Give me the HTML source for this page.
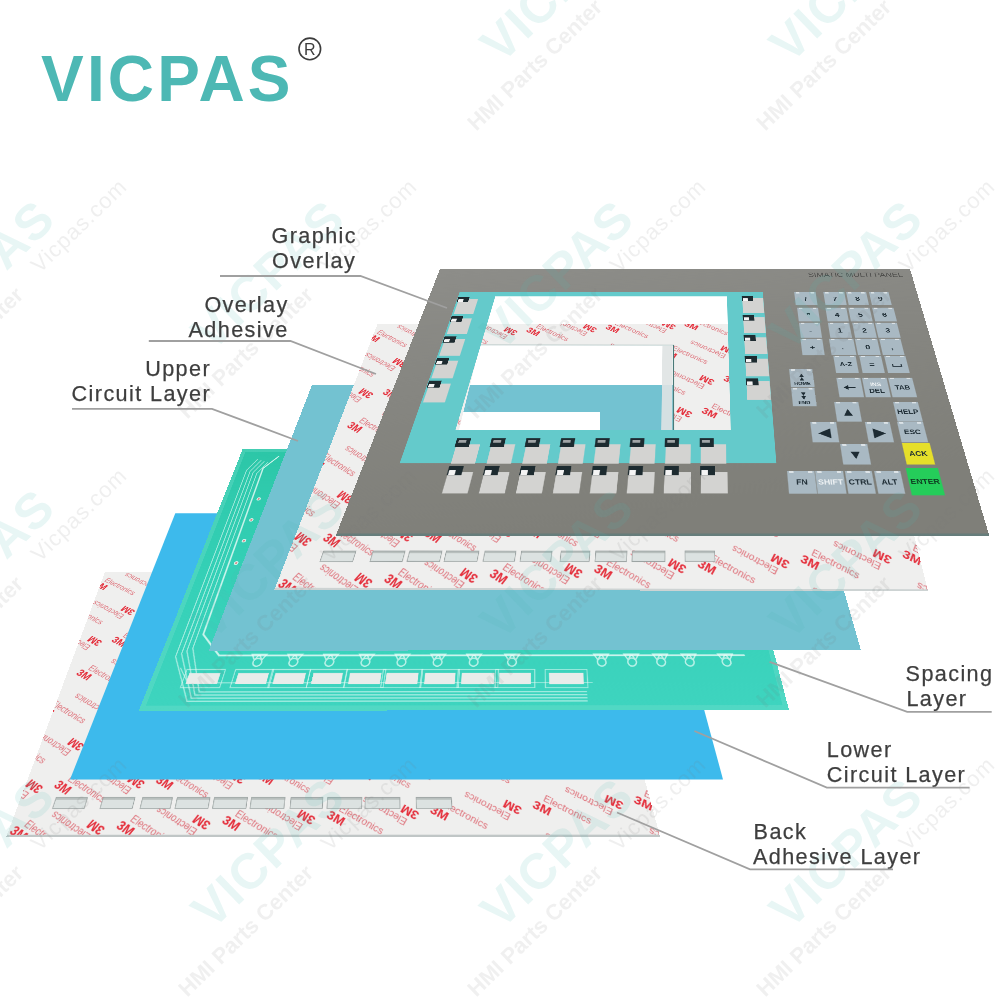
<!DOCTYPE html><html><head><meta charset="utf-8"><style>
html,body{margin:0;padding:0;background:#fff;}
body{width:1000px;height:1000px;overflow:hidden;position:relative;font-family:"Liberation Sans",sans-serif;}
.ly{position:absolute;left:0;top:0;transform-origin:0 0;}
.ly svg{display:block;}
.lab{position:absolute;font-size:21.6px;color:#3e3e3e;-webkit-text-stroke:0.25px #3e3e3e;line-height:25px;height:25px;white-space:nowrap;}
#ov{position:absolute;left:0;top:0;}
</style></head><body>

<div class="ly" style="width:1000px;height:560px;transform:matrix3d(0.48416487,0.00016011035,0,2.7991319e-07,-0.17917083,0.084631913,0,-0.0004636243,0,0,1,0,105,572,0,1)">
<svg width="1000" height="560" viewBox="0 0 1000 560">
<defs><pattern id="pBA" patternUnits="userSpaceOnUse" width="136" height="88" patternTransform="rotate(30) scale(1.00 1)">
<text x="17" y="20" font-size="16" fill="#de6f78" font-family="Liberation Sans">Electronics</text>
<text x="6" y="39" font-size="21" font-weight="bold" fill="#e42b38" font-family="Liberation Sans">3M</text>
<g transform="rotate(180 102 64)"><text x="85" y="62" font-size="16" fill="#de6f78" font-family="Liberation Sans">Electronics</text>
<text x="74" y="81" font-size="21" font-weight="bold" fill="#e42b38" font-family="Liberation Sans">3M</text></g>
</pattern></defs>
<rect x="0" y="0" width="1000" height="560" fill="#efefee"/>
<rect x="0" y="0" width="1000" height="560" fill="url(#pBA)"/>
<rect x="56.2" y="496.3" width="49.8" height="18.4" fill="#dce2e1" stroke="#9aa2a1" stroke-width="1.2"/>
<rect x="56.2" y="496.3" width="49.8" height="3.7" fill="#9aa2a1" opacity="0.55"/>
<rect x="130.9" y="496.3" width="50.6" height="18.4" fill="#dce2e1" stroke="#9aa2a1" stroke-width="1.2"/>
<rect x="130.9" y="496.3" width="50.6" height="3.7" fill="#9aa2a1" opacity="0.55"/>
<rect x="193.8" y="496.3" width="47.3" height="18.4" fill="#dce2e1" stroke="#9aa2a1" stroke-width="1.2"/>
<rect x="193.8" y="496.3" width="47.3" height="3.7" fill="#9aa2a1" opacity="0.55"/>
<rect x="248.8" y="496.3" width="51.9" height="18.4" fill="#dce2e1" stroke="#9aa2a1" stroke-width="1.2"/>
<rect x="248.8" y="496.3" width="51.9" height="3.7" fill="#9aa2a1" opacity="0.55"/>
<rect x="307.8" y="496.3" width="52.6" height="18.4" fill="#dce2e1" stroke="#9aa2a1" stroke-width="1.2"/>
<rect x="307.8" y="496.3" width="52.6" height="3.7" fill="#9aa2a1" opacity="0.55"/>
<rect x="366.8" y="496.3" width="53.3" height="18.4" fill="#dce2e1" stroke="#9aa2a1" stroke-width="1.2"/>
<rect x="366.8" y="496.3" width="53.3" height="3.7" fill="#9aa2a1" opacity="0.55"/>
<rect x="429.7" y="496.4" width="50.8" height="18.4" fill="#dce2e1" stroke="#9aa2a1" stroke-width="1.2"/>
<rect x="429.7" y="496.4" width="50.8" height="3.7" fill="#9aa2a1" opacity="0.55"/>
<rect x="487.9" y="496.4" width="54.6" height="18.4" fill="#dce2e1" stroke="#9aa2a1" stroke-width="1.2"/>
<rect x="487.9" y="496.4" width="54.6" height="3.7" fill="#9aa2a1" opacity="0.55"/>
<rect x="547.7" y="496.4" width="55.1" height="18.4" fill="#dce2e1" stroke="#9aa2a1" stroke-width="1.2"/>
<rect x="547.7" y="496.4" width="55.1" height="3.7" fill="#9aa2a1" opacity="0.55"/>
<rect x="628.5" y="496.4" width="56.1" height="18.4" fill="#dce2e1" stroke="#9aa2a1" stroke-width="1.2"/>
<rect x="628.5" y="496.4" width="56.1" height="3.7" fill="#9aa2a1" opacity="0.55"/>
<rect x="0" y="557" width="1000" height="3" fill="#c0c6c6"/>
</svg></div>
<div class="ly" style="width:1000px;height:560px;transform:matrix3d(0.4757,0,0,0,-0.22197522,0.097416457,0,-0.00048485014,0,0,1,0,175.3,513.3,0,1)">
<svg width="1000" height="560" viewBox="0 0 1000 560">
<rect x="0" y="0" width="1000" height="560" fill="#3dbaec"/>
</svg></div>
<div class="ly" style="width:1000px;height:560px;transform:matrix3d(0.47931492,0.00063203754,0,1.407656e-06,-0.25126007,0.13146427,0,-0.00047257233,0,0,1,0,242.7,449,0,1)">
<svg width="1000" height="560" viewBox="0 0 1000 560">
<defs><linearGradient id="gsp" x1="0" y1="0" x2="0" y2="1"><stop offset="0" stop-color="#2cc6a7"/><stop offset="0.55" stop-color="#34d0b6"/><stop offset="1" stop-color="#3ed4bf"/></linearGradient></defs>
<rect x="0" y="0" width="1000" height="560" fill="url(#gsp)"/>
<path fill-rule="evenodd" fill="#7fe0cf" opacity="0.3" d="M0 0 H1000 V560 H0 Z M8 8 V552 H992 V8 Z"/>
<polyline stroke="#effdf9" fill="none" stroke-linecap="round" stroke-width="2" opacity="0.55" points="39.0,30.0 25.0,60.0 25.0,470.0 69.0,545.0 690,545.0"/>
<polyline stroke="#effdf9" fill="none" stroke-linecap="round" stroke-width="2" opacity="0.55" points="47.0,33.0 33.0,63.0 33.0,465.0 74.0,540.0 690,540.0"/>
<polyline stroke="#effdf9" fill="none" stroke-linecap="round" stroke-width="2" opacity="0.55" points="54.0,36.0 40.0,66.0 40.0,460.0 78.0,535.0 690,535.0"/>
<polyline stroke="#effdf9" fill="none" stroke-linecap="round" stroke-width="2" opacity="0.55" points="62.0,39.0 48.0,69.0 48.0,455.0 83.0,530.0 690,530.0"/>
<polyline stroke="#effdf9" fill="none" stroke-linecap="round" stroke-width="3" opacity="0.8" points="80,22 57,55 57,430 95,468 950,468"/>
<polyline stroke="#effdf9" fill="none" stroke-linecap="round" stroke-width="1.6" opacity="0.6" points="40,490 60,515 700,515"/>
<defs><pattern id="hatch" patternUnits="userSpaceOnUse" width="7" height="7" patternTransform="rotate(35)"><rect x="0" y="0" width="2" height="7" fill="#effdf9" opacity="0.6"/></pattern></defs>
<path fill="url(#hatch)" d="M95 25 L120 25 L105 320 L80 320 Z"/>
<circle cx="70" cy="136" r="4" fill="#e6f7f2" opacity="0.9"/><circle cx="70" cy="136" r="2" fill="#d98080"/>
<circle cx="70" cy="188" r="4" fill="#e6f7f2" opacity="0.9"/><circle cx="70" cy="188" r="2" fill="#d98080"/>
<circle cx="70" cy="237" r="4" fill="#e6f7f2" opacity="0.9"/><circle cx="70" cy="237" r="2" fill="#d98080"/>
<circle cx="70" cy="287" r="4" fill="#e6f7f2" opacity="0.9"/><circle cx="70" cy="287" r="2" fill="#d98080"/>
<path d="M160.5 466 l-12 0 l6 10 z M160.5 466 l12 0 l-6 10 z M160.5 480 m-7 0 a7 7 0 1 0 14 0 a7 7 0 1 0 -14 0" fill="none" stroke="#effdf9" stroke-width="2.4" opacity="0.7"/>
<path d="M218.7 466 l-12 0 l6 10 z M218.7 466 l12 0 l-6 10 z M218.7 480 m-7 0 a7 7 0 1 0 14 0 a7 7 0 1 0 -14 0" fill="none" stroke="#effdf9" stroke-width="2.4" opacity="0.7"/>
<path d="M276.9 466 l-12 0 l6 10 z M276.9 466 l12 0 l-6 10 z M276.9 480 m-7 0 a7 7 0 1 0 14 0 a7 7 0 1 0 -14 0" fill="none" stroke="#effdf9" stroke-width="2.4" opacity="0.7"/>
<path d="M335.2 466 l-12 0 l6 10 z M335.2 466 l12 0 l-6 10 z M335.2 480 m-7 0 a7 7 0 1 0 14 0 a7 7 0 1 0 -14 0" fill="none" stroke="#effdf9" stroke-width="2.4" opacity="0.7"/>
<path d="M393.4 466 l-12 0 l6 10 z M393.4 466 l12 0 l-6 10 z M393.4 480 m-7 0 a7 7 0 1 0 14 0 a7 7 0 1 0 -14 0" fill="none" stroke="#effdf9" stroke-width="2.4" opacity="0.7"/>
<path d="M451.7 466 l-12 0 l6 10 z M451.7 466 l12 0 l-6 10 z M451.7 480 m-7 0 a7 7 0 1 0 14 0 a7 7 0 1 0 -14 0" fill="none" stroke="#effdf9" stroke-width="2.4" opacity="0.7"/>
<path d="M510.0 466 l-12 0 l6 10 z M510.0 466 l12 0 l-6 10 z M510.0 480 m-7 0 a7 7 0 1 0 14 0 a7 7 0 1 0 -14 0" fill="none" stroke="#effdf9" stroke-width="2.4" opacity="0.7"/>
<path d="M572.0 466 l-12 0 l6 10 z M572.0 466 l12 0 l-6 10 z M572.0 480 m-7 0 a7 7 0 1 0 14 0 a7 7 0 1 0 -14 0" fill="none" stroke="#effdf9" stroke-width="2.4" opacity="0.7"/>
<path d="M717.1 466 l-12 0 l6 10 z M717.1 466 l12 0 l-6 10 z M717.1 480 m-7 0 a7 7 0 1 0 14 0 a7 7 0 1 0 -14 0" fill="none" stroke="#effdf9" stroke-width="2.4" opacity="0.7"/>
<path d="M766.3 466 l-12 0 l6 10 z M766.3 466 l12 0 l-6 10 z M766.3 480 m-7 0 a7 7 0 1 0 14 0 a7 7 0 1 0 -14 0" fill="none" stroke="#effdf9" stroke-width="2.4" opacity="0.7"/>
<path d="M813.3 466 l-12 0 l6 10 z M813.3 466 l12 0 l-6 10 z M813.3 480 m-7 0 a7 7 0 1 0 14 0 a7 7 0 1 0 -14 0" fill="none" stroke="#effdf9" stroke-width="2.4" opacity="0.7"/>
<path d="M859.7 466 l-12 0 l6 10 z M859.7 466 l12 0 l-6 10 z M859.7 480 m-7 0 a7 7 0 1 0 14 0 a7 7 0 1 0 -14 0" fill="none" stroke="#effdf9" stroke-width="2.4" opacity="0.7"/>
<path d="M919.3 466 l-12 0 l6 10 z M919.3 466 l12 0 l-6 10 z M919.3 480 m-7 0 a7 7 0 1 0 14 0 a7 7 0 1 0 -14 0" fill="none" stroke="#effdf9" stroke-width="2.4" opacity="0.7"/>
<rect x="51.1" y="492.4" width="61.7" height="30.5" fill="none" stroke="#e9fbf6" stroke-width="1.6" opacity="0.6"/>
<rect x="57.1" y="498.4" width="49.7" height="18.5" fill="#e8ecea"/>
<rect x="129.2" y="492.5" width="60.9" height="30.5" fill="none" stroke="#e9fbf6" stroke-width="1.6" opacity="0.6"/>
<rect x="135.2" y="498.5" width="48.9" height="18.5" fill="#e8ecea"/>
<rect x="188.4" y="492.5" width="60.8" height="30.5" fill="none" stroke="#e9fbf6" stroke-width="1.6" opacity="0.6"/>
<rect x="194.4" y="498.5" width="48.8" height="18.5" fill="#e8ecea"/>
<rect x="249.2" y="492.5" width="59.1" height="30.5" fill="none" stroke="#e9fbf6" stroke-width="1.6" opacity="0.6"/>
<rect x="255.2" y="498.5" width="47.1" height="18.5" fill="#e8ecea"/>
<rect x="307.6" y="492.6" width="62.3" height="30.5" fill="none" stroke="#e9fbf6" stroke-width="1.6" opacity="0.6"/>
<rect x="313.6" y="498.6" width="50.3" height="18.5" fill="#e8ecea"/>
<rect x="366.1" y="492.6" width="63.0" height="30.5" fill="none" stroke="#e9fbf6" stroke-width="1.6" opacity="0.6"/>
<rect x="372.1" y="498.6" width="51.0" height="18.5" fill="#e8ecea"/>
<rect x="427.7" y="492.7" width="60.5" height="30.5" fill="none" stroke="#e9fbf6" stroke-width="1.6" opacity="0.6"/>
<rect x="433.7" y="498.7" width="48.5" height="18.5" fill="#e8ecea"/>
<rect x="486.2" y="492.7" width="64.3" height="30.5" fill="none" stroke="#e9fbf6" stroke-width="1.6" opacity="0.6"/>
<rect x="492.2" y="498.7" width="52.3" height="18.5" fill="#e8ecea"/>
<rect x="546.2" y="492.7" width="62.6" height="30.5" fill="none" stroke="#e9fbf6" stroke-width="1.6" opacity="0.6"/>
<rect x="552.2" y="498.7" width="50.6" height="18.5" fill="#e8ecea"/>
<rect x="625.5" y="492.8" width="67.0" height="30.5" fill="none" stroke="#e9fbf6" stroke-width="1.6" opacity="0.6"/>
<rect x="631.5" y="498.8" width="55.0" height="18.5" fill="#e8ecea"/>
</svg></div>
<div class="ly" style="width:1000px;height:560px;transform:matrix3d(0.47364359,0.00031564672,0,8.1986161e-07,-0.28693936,0.1548306,0,-0.00049101616,0,0,1,0,312,385,0,1)">
<svg width="1000" height="560" viewBox="0 0 1000 560">
<path fill-rule="evenodd" fill="#73c2d1" d="M0 0 H1000 V560 H0 Z M250 75 V200 H607 V75 Z"/>
</svg></div>
<div class="ly" style="width:1000px;height:560px;transform:matrix3d(0.4801935,-0.0016186845,0,-4.9959398e-06,-0.3104451,0.20240771,0,-0.0004608981,0,0,1,0,377.5,324,0,1)">
<svg width="1000" height="560" viewBox="0 0 1000 560">
<defs><pattern id="pAD" patternUnits="userSpaceOnUse" width="136" height="88" patternTransform="rotate(30) scale(1.00 1)">
<text x="17" y="20" font-size="16" fill="#de6f78" font-family="Liberation Sans">Electronics</text>
<text x="6" y="39" font-size="21" font-weight="bold" fill="#e42b38" font-family="Liberation Sans">3M</text>
<g transform="rotate(180 102 64)"><text x="85" y="62" font-size="16" fill="#de6f78" font-family="Liberation Sans">Electronics</text>
<text x="74" y="81" font-size="21" font-weight="bold" fill="#e42b38" font-family="Liberation Sans">3M</text></g>
</pattern></defs>
<path id="adf" fill-rule="evenodd" fill="#efefee" d="M0 0 H1000 V560 H0 Z M223 58 V400 H612 V58 Z"/>
<path fill-rule="evenodd" fill="url(#pAD)" d="M0 0 H1000 V560 H0 Z M223 58 V400 H612 V58 Z"/>
<path fill="none" stroke="#4a7a78" stroke-width="2.2" d="M223 58 H612 V400"/>
<rect x="590" y="60" width="20" height="340" fill="#dfe3e3" opacity="0.9"/>
<rect x="54.7" y="497.3" width="51.7" height="17.4" fill="#dce2e1" stroke="#9aa2a1" stroke-width="1.2"/>
<rect x="54.7" y="497.3" width="51.7" height="3.5" fill="#9aa2a1" opacity="0.55"/>
<rect x="133.8" y="497.1" width="50.9" height="17.4" fill="#dce2e1" stroke="#9aa2a1" stroke-width="1.2"/>
<rect x="133.8" y="497.1" width="50.9" height="3.5" fill="#9aa2a1" opacity="0.55"/>
<rect x="192.2" y="496.9" width="51.4" height="17.4" fill="#dce2e1" stroke="#9aa2a1" stroke-width="1.2"/>
<rect x="192.2" y="496.9" width="51.4" height="3.5" fill="#9aa2a1" opacity="0.55"/>
<rect x="250.6" y="496.8" width="52.0" height="17.4" fill="#dce2e1" stroke="#9aa2a1" stroke-width="1.2"/>
<rect x="250.6" y="496.8" width="52.0" height="3.5" fill="#9aa2a1" opacity="0.55"/>
<rect x="312.2" y="496.6" width="49.4" height="17.4" fill="#dce2e1" stroke="#9aa2a1" stroke-width="1.2"/>
<rect x="312.2" y="496.6" width="49.4" height="3.5" fill="#9aa2a1" opacity="0.55"/>
<rect x="370.5" y="496.5" width="48.4" height="17.4" fill="#dce2e1" stroke="#9aa2a1" stroke-width="1.2"/>
<rect x="370.5" y="496.5" width="48.4" height="3.5" fill="#9aa2a1" opacity="0.55"/>
<rect x="433.5" y="496.3" width="45.9" height="17.4" fill="#dce2e1" stroke="#9aa2a1" stroke-width="1.2"/>
<rect x="433.5" y="496.3" width="45.9" height="3.5" fill="#9aa2a1" opacity="0.55"/>
<rect x="488.6" y="496.2" width="49.6" height="17.4" fill="#dce2e1" stroke="#9aa2a1" stroke-width="1.2"/>
<rect x="488.6" y="496.2" width="49.6" height="3.5" fill="#9aa2a1" opacity="0.55"/>
<rect x="546.9" y="496.1" width="51.8" height="17.4" fill="#dce2e1" stroke="#9aa2a1" stroke-width="1.2"/>
<rect x="546.9" y="496.1" width="51.8" height="3.5" fill="#9aa2a1" opacity="0.55"/>
<rect x="630.4" y="495.8" width="47.0" height="17.4" fill="#dce2e1" stroke="#9aa2a1" stroke-width="1.2"/>
<rect x="630.4" y="495.8" width="47.0" height="3.5" fill="#9aa2a1" opacity="0.55"/>
<rect x="0" y="557" width="1000" height="3" fill="#cdd3d3"/>
</svg></div>
<div class="ly" style="width:1000px;height:640px;transform:matrix3d(0.47,0,0,0,-0.31008475,0.18155131,0,-0.00043857132,0,0,1,0,440,269,0,1)">
<svg width="1000" height="640" viewBox="0 0 1000 640">
<defs><linearGradient id="ggo" x1="0" y1="0" x2="0.3" y2="1"><stop offset="0" stop-color="#8d8d89"/><stop offset="1" stop-color="#7f7f79"/></linearGradient></defs>
<path fill-rule="evenodd" fill="url(#ggo)" d="M0 0 H1000 V640 H0 Z M135 88 V435 H609 V88 Z"/>
<path fill-rule="evenodd" fill="#64cacb" d="M59 75 H683 V505 H59 Z M135 88 V435 H609 V88 Z"/>
<rect x="62.5" y="96.0" width="39.0" height="45.0" fill="#d3d3d1"/>
<rect x="60.0" y="89.0" width="23.0" height="17.0" fill="#1d2b30"/>
<rect x="62.0" y="96.7" width="10.3" height="8.5" fill="#f4f4f4"/>
<rect x="62.5" y="153.9" width="39.0" height="45.0" fill="#d3d3d1"/>
<rect x="60.0" y="146.9" width="23.0" height="17.0" fill="#1d2b30"/>
<rect x="62.0" y="154.6" width="10.3" height="8.5" fill="#f4f4f4"/>
<rect x="62.5" y="211.8" width="39.0" height="45.0" fill="#d3d3d1"/>
<rect x="60.0" y="204.8" width="23.0" height="17.0" fill="#1d2b30"/>
<rect x="62.0" y="212.5" width="10.3" height="8.5" fill="#f4f4f4"/>
<rect x="62.5" y="269.7" width="39.0" height="45.0" fill="#d3d3d1"/>
<rect x="60.0" y="262.7" width="23.0" height="17.0" fill="#1d2b30"/>
<rect x="62.0" y="270.3" width="10.3" height="8.5" fill="#f4f4f4"/>
<rect x="62.5" y="327.6" width="39.0" height="45.0" fill="#d3d3d1"/>
<rect x="60.0" y="320.6" width="23.0" height="17.0" fill="#1d2b30"/>
<rect x="62.0" y="328.2" width="10.3" height="8.5" fill="#f4f4f4"/>
<rect x="640.0" y="93.0" width="42.5" height="45.0" fill="#d3d3d1"/>
<rect x="639.0" y="86.0" width="23.0" height="17.0" fill="#1d2b30"/>
<rect x="641.0" y="93.7" width="10.3" height="8.5" fill="#f4f4f4"/>
<rect x="640.0" y="150.2" width="42.5" height="45.0" fill="#d3d3d1"/>
<rect x="639.0" y="143.2" width="23.0" height="17.0" fill="#1d2b30"/>
<rect x="641.0" y="150.8" width="10.3" height="8.5" fill="#f4f4f4"/>
<rect x="640.0" y="207.4" width="42.5" height="45.0" fill="#d3d3d1"/>
<rect x="639.0" y="200.4" width="23.0" height="17.0" fill="#1d2b30"/>
<rect x="641.0" y="208.1" width="10.3" height="8.5" fill="#f4f4f4"/>
<rect x="640.0" y="264.6" width="42.5" height="45.0" fill="#d3d3d1"/>
<rect x="639.0" y="257.6" width="23.0" height="17.0" fill="#1d2b30"/>
<rect x="641.0" y="265.2" width="10.3" height="8.5" fill="#f4f4f4"/>
<rect x="640.0" y="321.8" width="42.5" height="45.0" fill="#d3d3d1"/>
<rect x="639.0" y="314.8" width="23.0" height="17.0" fill="#1d2b30"/>
<rect x="641.0" y="322.4" width="10.3" height="8.5" fill="#f4f4f4"/>
<rect x="144.0" y="465.7" width="40.0" height="40.0" fill="#d3d3d1"/>
<rect x="142.0" y="453.0" width="24.0" height="18.0" fill="#1d2b30"/>
<rect x="146.0" y="457.0" width="13.2" height="5.4" fill="#d8d8d8" opacity="0.7"/>
<rect x="203.1" y="465.7" width="40.4" height="40.0" fill="#d3d3d1"/>
<rect x="201.1" y="453.0" width="24.0" height="18.0" fill="#1d2b30"/>
<rect x="205.1" y="457.0" width="13.2" height="5.4" fill="#d8d8d8" opacity="0.7"/>
<rect x="262.2" y="465.7" width="40.7" height="40.0" fill="#d3d3d1"/>
<rect x="260.2" y="453.0" width="24.0" height="18.0" fill="#1d2b30"/>
<rect x="264.2" y="457.0" width="13.2" height="5.4" fill="#d8d8d8" opacity="0.7"/>
<rect x="321.3" y="465.7" width="41.1" height="40.0" fill="#d3d3d1"/>
<rect x="319.3" y="453.0" width="24.0" height="18.0" fill="#1d2b30"/>
<rect x="323.3" y="457.0" width="13.2" height="5.4" fill="#d8d8d8" opacity="0.7"/>
<rect x="380.4" y="465.7" width="41.4" height="40.0" fill="#d3d3d1"/>
<rect x="378.4" y="453.0" width="24.0" height="18.0" fill="#1d2b30"/>
<rect x="382.4" y="457.0" width="13.2" height="5.4" fill="#d8d8d8" opacity="0.7"/>
<rect x="439.5" y="465.7" width="41.8" height="40.0" fill="#d3d3d1"/>
<rect x="437.5" y="453.0" width="24.0" height="18.0" fill="#1d2b30"/>
<rect x="441.5" y="457.0" width="13.2" height="5.4" fill="#d8d8d8" opacity="0.7"/>
<rect x="498.6" y="465.7" width="42.1" height="40.0" fill="#d3d3d1"/>
<rect x="496.6" y="453.0" width="24.0" height="18.0" fill="#1d2b30"/>
<rect x="500.6" y="457.0" width="13.2" height="5.4" fill="#d8d8d8" opacity="0.7"/>
<rect x="557.7" y="465.7" width="42.5" height="40.0" fill="#d3d3d1"/>
<rect x="555.7" y="453.0" width="24.0" height="18.0" fill="#1d2b30"/>
<rect x="559.7" y="457.0" width="13.2" height="5.4" fill="#d8d8d8" opacity="0.7"/>
<rect x="143.6" y="522.4" width="41.0" height="41.6" fill="#d3d3d1"/>
<rect x="142.6" y="510.0" width="24.0" height="19.0" fill="#1d2b30"/>
<rect x="144.6" y="518.5" width="10.8" height="9.5" fill="#f4f4f4"/>
<rect x="202.8" y="522.4" width="41.4" height="41.6" fill="#d3d3d1"/>
<rect x="201.8" y="510.0" width="24.0" height="19.0" fill="#1d2b30"/>
<rect x="203.8" y="518.5" width="10.8" height="9.5" fill="#f4f4f4"/>
<rect x="262.0" y="522.4" width="41.7" height="41.6" fill="#d3d3d1"/>
<rect x="261.0" y="510.0" width="24.0" height="19.0" fill="#1d2b30"/>
<rect x="263.0" y="518.5" width="10.8" height="9.5" fill="#f4f4f4"/>
<rect x="321.2" y="522.4" width="42.1" height="41.6" fill="#d3d3d1"/>
<rect x="320.2" y="510.0" width="24.0" height="19.0" fill="#1d2b30"/>
<rect x="322.2" y="518.5" width="10.8" height="9.5" fill="#f4f4f4"/>
<rect x="380.4" y="522.4" width="42.5" height="41.6" fill="#d3d3d1"/>
<rect x="379.4" y="510.0" width="24.0" height="19.0" fill="#1d2b30"/>
<rect x="381.4" y="518.5" width="10.8" height="9.5" fill="#f4f4f4"/>
<rect x="439.6" y="522.4" width="42.9" height="41.6" fill="#d3d3d1"/>
<rect x="438.6" y="510.0" width="24.0" height="19.0" fill="#1d2b30"/>
<rect x="440.6" y="518.5" width="10.8" height="9.5" fill="#f4f4f4"/>
<rect x="498.8" y="522.4" width="43.2" height="41.6" fill="#d3d3d1"/>
<rect x="497.8" y="510.0" width="24.0" height="19.0" fill="#1d2b30"/>
<rect x="499.8" y="518.5" width="10.8" height="9.5" fill="#f4f4f4"/>
<rect x="558.0" y="522.4" width="43.6" height="41.6" fill="#d3d3d1"/>
<rect x="557.0" y="510.0" width="24.0" height="19.0" fill="#1d2b30"/>
<rect x="559.0" y="518.5" width="10.8" height="9.5" fill="#f4f4f4"/>
<rect x="747.5" y="75.0" width="44.0" height="39.5" fill="#a9b9c3"/>
<rect x="751.0" y="75.0" width="7" height="4" fill="#e8eef0" opacity="0.8"/><rect x="781.0" y="75.0" width="7" height="4" fill="#e8eef0" opacity="0.8"/>
<text x="769.5" y="101.1" font-size="17" font-weight="bold" text-anchor="middle" fill="#1e2c34" font-family="Liberation Sans">/</text>
<rect x="807.5" y="75.0" width="43.0" height="39.5" fill="#a9b9c3"/>
<rect x="811.0" y="75.0" width="7" height="4" fill="#e8eef0" opacity="0.8"/><rect x="840.0" y="75.0" width="7" height="4" fill="#e8eef0" opacity="0.8"/>
<text x="829.0" y="101.1" font-size="17" font-weight="bold" text-anchor="middle" fill="#1e2c34" font-family="Liberation Sans">7</text>
<rect x="854.5" y="75.0" width="41.0" height="39.5" fill="#a9b9c3"/>
<rect x="858.0" y="75.0" width="7" height="4" fill="#e8eef0" opacity="0.8"/><rect x="885.0" y="75.0" width="7" height="4" fill="#e8eef0" opacity="0.8"/>
<text x="875.0" y="101.1" font-size="17" font-weight="bold" text-anchor="middle" fill="#1e2c34" font-family="Liberation Sans">8</text>
<rect x="901.5" y="75.0" width="40.0" height="39.5" fill="#a9b9c3"/>
<rect x="905.0" y="75.0" width="7" height="4" fill="#e8eef0" opacity="0.8"/><rect x="931.0" y="75.0" width="7" height="4" fill="#e8eef0" opacity="0.8"/>
<text x="921.5" y="101.1" font-size="17" font-weight="bold" text-anchor="middle" fill="#1e2c34" font-family="Liberation Sans">9</text>
<rect x="749.5" y="122.0" width="42.0" height="40.5" fill="#a9b9c3"/>
<rect x="753.0" y="122.0" width="7" height="4" fill="#e8eef0" opacity="0.8"/><rect x="781.0" y="122.0" width="7" height="4" fill="#e8eef0" opacity="0.8"/>
<text x="770.5" y="148.6" font-size="17" font-weight="bold" text-anchor="middle" fill="#1e2c34" font-family="Liberation Sans">*</text>
<rect x="806.5" y="122.0" width="42.0" height="40.5" fill="#a9b9c3"/>
<rect x="810.0" y="122.0" width="7" height="4" fill="#e8eef0" opacity="0.8"/><rect x="838.0" y="122.0" width="7" height="4" fill="#e8eef0" opacity="0.8"/>
<text x="827.5" y="148.6" font-size="17" font-weight="bold" text-anchor="middle" fill="#1e2c34" font-family="Liberation Sans">4</text>
<rect x="852.5" y="122.0" width="43.0" height="40.5" fill="#a9b9c3"/>
<rect x="856.0" y="122.0" width="7" height="4" fill="#e8eef0" opacity="0.8"/><rect x="885.0" y="122.0" width="7" height="4" fill="#e8eef0" opacity="0.8"/>
<text x="874.0" y="148.6" font-size="17" font-weight="bold" text-anchor="middle" fill="#1e2c34" font-family="Liberation Sans">5</text>
<rect x="900.5" y="122.0" width="43.0" height="40.5" fill="#a9b9c3"/>
<rect x="904.0" y="122.0" width="7" height="4" fill="#e8eef0" opacity="0.8"/><rect x="933.0" y="122.0" width="7" height="4" fill="#e8eef0" opacity="0.8"/>
<text x="922.0" y="148.6" font-size="17" font-weight="bold" text-anchor="middle" fill="#1e2c34" font-family="Liberation Sans">6</text>
<rect x="749.5" y="166.0" width="41.0" height="42.5" fill="#a9b9c3"/>
<rect x="753.0" y="166.0" width="7" height="4" fill="#e8eef0" opacity="0.8"/><rect x="780.0" y="166.0" width="7" height="4" fill="#e8eef0" opacity="0.8"/>
<text x="770.0" y="193.6" font-size="17" font-weight="bold" text-anchor="middle" fill="#1e2c34" font-family="Liberation Sans">-</text>
<rect x="806.5" y="166.0" width="42.0" height="42.5" fill="#a9b9c3"/>
<rect x="810.0" y="166.0" width="7" height="4" fill="#e8eef0" opacity="0.8"/><rect x="838.0" y="166.0" width="7" height="4" fill="#e8eef0" opacity="0.8"/>
<text x="827.5" y="193.6" font-size="17" font-weight="bold" text-anchor="middle" fill="#1e2c34" font-family="Liberation Sans">1</text>
<rect x="854.5" y="166.0" width="42.0" height="42.5" fill="#a9b9c3"/>
<rect x="858.0" y="166.0" width="7" height="4" fill="#e8eef0" opacity="0.8"/><rect x="886.0" y="166.0" width="7" height="4" fill="#e8eef0" opacity="0.8"/>
<text x="875.5" y="193.6" font-size="17" font-weight="bold" text-anchor="middle" fill="#1e2c34" font-family="Liberation Sans">2</text>
<rect x="899.5" y="166.0" width="43.0" height="42.5" fill="#a9b9c3"/>
<rect x="903.0" y="166.0" width="7" height="4" fill="#e8eef0" opacity="0.8"/><rect x="932.0" y="166.0" width="7" height="4" fill="#e8eef0" opacity="0.8"/>
<text x="921.0" y="193.6" font-size="17" font-weight="bold" text-anchor="middle" fill="#1e2c34" font-family="Liberation Sans">3</text>
<rect x="748.5" y="211.0" width="42.0" height="44.5" fill="#a9b9c3"/>
<rect x="752.0" y="211.0" width="7" height="4" fill="#e8eef0" opacity="0.8"/><rect x="780.0" y="211.0" width="7" height="4" fill="#e8eef0" opacity="0.8"/>
<text x="769.5" y="239.6" font-size="17" font-weight="bold" text-anchor="middle" fill="#1e2c34" font-family="Liberation Sans">+</text>
<rect x="803.5" y="211.0" width="47.0" height="44.5" fill="#a9b9c3"/>
<rect x="807.0" y="211.0" width="7" height="4" fill="#e8eef0" opacity="0.8"/><rect x="840.0" y="211.0" width="7" height="4" fill="#e8eef0" opacity="0.8"/>
<text x="827.0" y="239.6" font-size="17" font-weight="bold" text-anchor="middle" fill="#1e2c34" font-family="Liberation Sans">.</text>
<rect x="853.5" y="211.0" width="43.0" height="44.5" fill="#a9b9c3"/>
<rect x="857.0" y="211.0" width="7" height="4" fill="#e8eef0" opacity="0.8"/><rect x="886.0" y="211.0" width="7" height="4" fill="#e8eef0" opacity="0.8"/>
<text x="875.0" y="239.6" font-size="17" font-weight="bold" text-anchor="middle" fill="#1e2c34" font-family="Liberation Sans">0</text>
<rect x="900.5" y="211.0" width="41.0" height="44.5" fill="#a9b9c3"/>
<rect x="904.0" y="211.0" width="7" height="4" fill="#e8eef0" opacity="0.8"/><rect x="931.0" y="211.0" width="7" height="4" fill="#e8eef0" opacity="0.8"/>
<text x="921.0" y="239.6" font-size="17" font-weight="bold" text-anchor="middle" fill="#1e2c34" font-family="Liberation Sans">,</text>
<rect x="806.5" y="257.0" width="42.0" height="44.5" fill="#a9b9c3"/>
<rect x="810.0" y="257.0" width="7" height="4" fill="#e8eef0" opacity="0.8"/><rect x="838.0" y="257.0" width="7" height="4" fill="#e8eef0" opacity="0.8"/>
<text x="827.5" y="284.5" font-size="14" font-weight="bold" text-anchor="middle" fill="#1e2c34" font-family="Liberation Sans">A-Z</text>
<rect x="855.5" y="257.0" width="41.0" height="44.5" fill="#a9b9c3"/>
<rect x="859.0" y="257.0" width="7" height="4" fill="#e8eef0" opacity="0.8"/><rect x="886.0" y="257.0" width="7" height="4" fill="#e8eef0" opacity="0.8"/>
<text x="876.0" y="285.6" font-size="17" font-weight="bold" text-anchor="middle" fill="#1e2c34" font-family="Liberation Sans">=</text>
<rect x="902.5" y="257.0" width="40.0" height="44.5" fill="#a9b9c3"/>
<rect x="906.0" y="257.0" width="7" height="4" fill="#e8eef0" opacity="0.8"/><rect x="932.0" y="257.0" width="7" height="4" fill="#e8eef0" opacity="0.8"/>
<path d="M914.5 278.5 v6 h16 v-6" fill="none" stroke="#1e2c34" stroke-width="2"/>
<rect x="805.5" y="313.0" width="44.0" height="47.5" fill="#a9b9c3"/>
<rect x="809.0" y="313.0" width="7" height="4" fill="#e8eef0" opacity="0.8"/><rect x="839.0" y="313.0" width="7" height="4" fill="#e8eef0" opacity="0.8"/>
<path d="M817.5 337.0 h20 M817.5 337.0 l6 -4 v8 z" fill="#1e2c34" stroke="#1e2c34" stroke-width="2"/>
<rect x="852.5" y="313.0" width="45.0" height="47.5" fill="#a9b9c3"/>
<rect x="856.0" y="313.0" width="7" height="4" fill="#e8eef0" opacity="0.8"/><rect x="887.0" y="313.0" width="7" height="4" fill="#e8eef0" opacity="0.8"/>
<text x="875.0" y="334.0" font-size="12" font-weight="bold" text-anchor="middle" fill="#eef2f4" font-family="Liberation Sans">INS</text>
<text x="875.0" y="350.0" font-size="14" font-weight="bold" text-anchor="middle" fill="#1e2c34" font-family="Liberation Sans">DEL</text>
<rect x="900.5" y="313.0" width="44.0" height="47.5" fill="#a9b9c3"/>
<rect x="904.0" y="313.0" width="7" height="4" fill="#e8eef0" opacity="0.8"/><rect x="934.0" y="313.0" width="7" height="4" fill="#e8eef0" opacity="0.8"/>
<text x="922.5" y="342.0" font-size="14" font-weight="bold" text-anchor="middle" fill="#1e2c34" font-family="Liberation Sans">TAB</text>
<rect x="720.5" y="292.0" width="43.0" height="44.5" fill="#a9b9c3"/>
<rect x="724.0" y="292.0" width="7" height="4" fill="#e8eef0" opacity="0.8"/><rect x="753.0" y="292.0" width="7" height="4" fill="#e8eef0" opacity="0.8"/>
<text x="742.0" y="311.5" font-size="14" font-weight="bold" text-anchor="middle" fill="#1e2c34" font-family="Liberation Sans">▲</text>
<text x="742.0" y="320.5" font-size="14" font-weight="bold" text-anchor="middle" fill="#1e2c34" font-family="Liberation Sans">▲</text>
<text x="742.0" y="331.5" font-size="10" font-weight="bold" text-anchor="middle" fill="#1e2c34" font-family="Liberation Sans">HOME</text>
<rect x="720.5" y="338.0" width="42.0" height="43.5" fill="#a9b9c3"/>
<rect x="724.0" y="338.0" width="7" height="4" fill="#e8eef0" opacity="0.8"/><rect x="752.0" y="338.0" width="7" height="4" fill="#e8eef0" opacity="0.8"/>
<text x="741.5" y="357.0" font-size="14" font-weight="bold" text-anchor="middle" fill="#1e2c34" font-family="Liberation Sans">▼</text>
<text x="741.5" y="366.0" font-size="14" font-weight="bold" text-anchor="middle" fill="#1e2c34" font-family="Liberation Sans">▼</text>
<text x="741.5" y="377.0" font-size="10" font-weight="bold" text-anchor="middle" fill="#1e2c34" font-family="Liberation Sans">END</text>
<rect x="794.5" y="371.0" width="43.0" height="45.5" fill="#a9b9c3"/>
<rect x="798.0" y="371.0" width="7" height="4" fill="#e8eef0" opacity="0.8"/><rect x="827.0" y="371.0" width="7" height="4" fill="#e8eef0" opacity="0.8"/>
<text x="816.0" y="403.4" font-size="26" font-weight="bold" text-anchor="middle" fill="#1e2c34" font-family="Liberation Sans">▲</text>
<rect x="899.5" y="371.0" width="44.0" height="45.5" fill="#a9b9c3"/>
<rect x="903.0" y="371.0" width="7" height="4" fill="#e8eef0" opacity="0.8"/><rect x="933.0" y="371.0" width="7" height="4" fill="#e8eef0" opacity="0.8"/>
<text x="921.5" y="399.0" font-size="14" font-weight="bold" text-anchor="middle" fill="#1e2c34" font-family="Liberation Sans">HELP</text>
<rect x="747.5" y="417.0" width="45.0" height="44.5" fill="#a9b9c3"/>
<rect x="751.0" y="417.0" width="7" height="4" fill="#e8eef0" opacity="0.8"/><rect x="782.0" y="417.0" width="7" height="4" fill="#e8eef0" opacity="0.8"/>
<text x="770.0" y="448.9" font-size="26" font-weight="bold" text-anchor="middle" fill="#1e2c34" font-family="Liberation Sans">◀</text>
<rect x="842.5" y="417.0" width="43.0" height="44.5" fill="#a9b9c3"/>
<rect x="846.0" y="417.0" width="7" height="4" fill="#e8eef0" opacity="0.8"/><rect x="875.0" y="417.0" width="7" height="4" fill="#e8eef0" opacity="0.8"/>
<text x="864.0" y="448.9" font-size="26" font-weight="bold" text-anchor="middle" fill="#1e2c34" font-family="Liberation Sans">▶</text>
<rect x="898.5" y="417.0" width="45.0" height="44.5" fill="#a9b9c3"/>
<rect x="902.0" y="417.0" width="7" height="4" fill="#e8eef0" opacity="0.8"/><rect x="933.0" y="417.0" width="7" height="4" fill="#e8eef0" opacity="0.8"/>
<text x="921.0" y="444.5" font-size="14" font-weight="bold" text-anchor="middle" fill="#1e2c34" font-family="Liberation Sans">ESC</text>
<rect x="793.5" y="465.0" width="46.0" height="42.5" fill="#a9b9c3"/>
<rect x="797.0" y="465.0" width="7" height="4" fill="#e8eef0" opacity="0.8"/><rect x="829.0" y="465.0" width="7" height="4" fill="#e8eef0" opacity="0.8"/>
<text x="816.5" y="495.9" font-size="26" font-weight="bold" text-anchor="middle" fill="#1e2c34" font-family="Liberation Sans">▼</text>
<rect x="898.5" y="463.0" width="47.0" height="44.5" fill="#e6df2a"/>
<text x="922.0" y="490.5" font-size="14" font-weight="bold" text-anchor="middle" fill="#1e2c34" font-family="Liberation Sans">ACK</text>
<rect x="699.5" y="520.0" width="45.0" height="44.5" fill="#a9b9c3"/>
<rect x="703.0" y="520.0" width="7" height="4" fill="#e8eef0" opacity="0.8"/><rect x="734.0" y="520.0" width="7" height="4" fill="#e8eef0" opacity="0.8"/>
<text x="722.0" y="547.5" font-size="14" font-weight="bold" text-anchor="middle" fill="#1e2c34" font-family="Liberation Sans">FN</text>
<rect x="745.5" y="520.0" width="46.0" height="44.5" fill="#a9b9c3"/>
<rect x="749.0" y="520.0" width="7" height="4" fill="#e8eef0" opacity="0.8"/><rect x="781.0" y="520.0" width="7" height="4" fill="#e8eef0" opacity="0.8"/>
<text x="768.5" y="547.5" font-size="14" font-weight="bold" text-anchor="middle" fill="#eef2f4" font-family="Liberation Sans">SHIFT</text>
<rect x="794.5" y="520.0" width="44.0" height="44.5" fill="#a9b9c3"/>
<rect x="798.0" y="520.0" width="7" height="4" fill="#e8eef0" opacity="0.8"/><rect x="828.0" y="520.0" width="7" height="4" fill="#e8eef0" opacity="0.8"/>
<text x="816.5" y="547.5" font-size="14" font-weight="bold" text-anchor="middle" fill="#1e2c34" font-family="Liberation Sans">CTRL</text>
<rect x="842.5" y="520.0" width="43.0" height="44.5" fill="#a9b9c3"/>
<rect x="846.0" y="520.0" width="7" height="4" fill="#e8eef0" opacity="0.8"/><rect x="875.0" y="520.0" width="7" height="4" fill="#e8eef0" opacity="0.8"/>
<text x="864.0" y="547.5" font-size="14" font-weight="bold" text-anchor="middle" fill="#1e2c34" font-family="Liberation Sans">ALT</text>
<rect x="895.5" y="514.0" width="53.0" height="53.5" fill="#25cd5a"/>
<text x="922.0" y="546.0" font-size="14" font-weight="bold" text-anchor="middle" fill="#0e3a20" font-family="Liberation Sans">ENTER</text>
<rect x="0" y="636.5" width="1000" height="3.5" fill="#667d7b"/>
<text x="781" y="26" font-size="20" fill="#4e4e4c" font-family="Liberation Sans" textLength="200" lengthAdjust="spacingAndGlyphs">SIMATIC MULTI PANEL</text>
</svg></div>
<svg id="wm" style="position:absolute;left:0;top:0" width="1000" height="1000">
<g transform="translate(557.0 -13.0) rotate(-44)">
<text x="0" y="17" font-size="50" font-weight="bold" text-anchor="middle" fill="#4fbab4" fill-opacity="0.13" font-family="Liberation Sans" letter-spacing="1">VICPAS</text>
<text x="107" y="42" font-size="22" text-anchor="middle" fill="#7a7a7a" fill-opacity="0.12" font-family="Liberation Sans" letter-spacing="1">Vicpas.com</text>
<text x="-70" y="48" font-size="22" font-weight="bold" text-anchor="middle" fill="#7a7a7a" fill-opacity="0.11" font-family="Liberation Sans">HMI Parts Center</text>
</g>
<g transform="translate(846.0 -13.0) rotate(-44)">
<text x="0" y="17" font-size="50" font-weight="bold" text-anchor="middle" fill="#4fbab4" fill-opacity="0.13" font-family="Liberation Sans" letter-spacing="1">VICPAS</text>
<text x="107" y="42" font-size="22" text-anchor="middle" fill="#7a7a7a" fill-opacity="0.12" font-family="Liberation Sans" letter-spacing="1">Vicpas.com</text>
<text x="-70" y="48" font-size="22" font-weight="bold" text-anchor="middle" fill="#7a7a7a" fill-opacity="0.11" font-family="Liberation Sans">HMI Parts Center</text>
</g>
<g transform="translate(-22.0 275.0) rotate(-44)">
<text x="0" y="17" font-size="50" font-weight="bold" text-anchor="middle" fill="#4fbab4" fill-opacity="0.13" font-family="Liberation Sans" letter-spacing="1">VICPAS</text>
<text x="107" y="42" font-size="22" text-anchor="middle" fill="#7a7a7a" fill-opacity="0.12" font-family="Liberation Sans" letter-spacing="1">Vicpas.com</text>
<text x="-70" y="48" font-size="22" font-weight="bold" text-anchor="middle" fill="#7a7a7a" fill-opacity="0.11" font-family="Liberation Sans">HMI Parts Center</text>
</g>
<g transform="translate(268.0 275.0) rotate(-44)">
<text x="0" y="17" font-size="50" font-weight="bold" text-anchor="middle" fill="#4fbab4" fill-opacity="0.13" font-family="Liberation Sans" letter-spacing="1">VICPAS</text>
<text x="107" y="42" font-size="22" text-anchor="middle" fill="#7a7a7a" fill-opacity="0.12" font-family="Liberation Sans" letter-spacing="1">Vicpas.com</text>
<text x="-70" y="48" font-size="22" font-weight="bold" text-anchor="middle" fill="#7a7a7a" fill-opacity="0.11" font-family="Liberation Sans">HMI Parts Center</text>
</g>
<g transform="translate(557.0 275.0) rotate(-44)">
<text x="0" y="17" font-size="50" font-weight="bold" text-anchor="middle" fill="#4fbab4" fill-opacity="0.13" font-family="Liberation Sans" letter-spacing="1">VICPAS</text>
<text x="107" y="42" font-size="22" text-anchor="middle" fill="#7a7a7a" fill-opacity="0.12" font-family="Liberation Sans" letter-spacing="1">Vicpas.com</text>
<text x="-70" y="48" font-size="22" font-weight="bold" text-anchor="middle" fill="#7a7a7a" fill-opacity="0.11" font-family="Liberation Sans">HMI Parts Center</text>
</g>
<g transform="translate(846.0 275.0) rotate(-44)">
<text x="0" y="17" font-size="50" font-weight="bold" text-anchor="middle" fill="#4fbab4" fill-opacity="0.13" font-family="Liberation Sans" letter-spacing="1">VICPAS</text>
<text x="107" y="42" font-size="22" text-anchor="middle" fill="#7a7a7a" fill-opacity="0.12" font-family="Liberation Sans" letter-spacing="1">Vicpas.com</text>
<text x="-70" y="48" font-size="22" font-weight="bold" text-anchor="middle" fill="#7a7a7a" fill-opacity="0.11" font-family="Liberation Sans">HMI Parts Center</text>
</g>
<g transform="translate(-22.0 564.0) rotate(-44)">
<text x="0" y="17" font-size="50" font-weight="bold" text-anchor="middle" fill="#4fbab4" fill-opacity="0.13" font-family="Liberation Sans" letter-spacing="1">VICPAS</text>
<text x="107" y="42" font-size="22" text-anchor="middle" fill="#7a7a7a" fill-opacity="0.12" font-family="Liberation Sans" letter-spacing="1">Vicpas.com</text>
<text x="-70" y="48" font-size="22" font-weight="bold" text-anchor="middle" fill="#7a7a7a" fill-opacity="0.11" font-family="Liberation Sans">HMI Parts Center</text>
</g>
<g transform="translate(268.0 564.0) rotate(-44)">
<text x="0" y="17" font-size="50" font-weight="bold" text-anchor="middle" fill="#4fbab4" fill-opacity="0.13" font-family="Liberation Sans" letter-spacing="1">VICPAS</text>
<text x="107" y="42" font-size="22" text-anchor="middle" fill="#7a7a7a" fill-opacity="0.12" font-family="Liberation Sans" letter-spacing="1">Vicpas.com</text>
<text x="-70" y="48" font-size="22" font-weight="bold" text-anchor="middle" fill="#7a7a7a" fill-opacity="0.11" font-family="Liberation Sans">HMI Parts Center</text>
</g>
<g transform="translate(557.0 564.0) rotate(-44)">
<text x="0" y="17" font-size="50" font-weight="bold" text-anchor="middle" fill="#4fbab4" fill-opacity="0.13" font-family="Liberation Sans" letter-spacing="1">VICPAS</text>
<text x="107" y="42" font-size="22" text-anchor="middle" fill="#7a7a7a" fill-opacity="0.12" font-family="Liberation Sans" letter-spacing="1">Vicpas.com</text>
<text x="-70" y="48" font-size="22" font-weight="bold" text-anchor="middle" fill="#7a7a7a" fill-opacity="0.11" font-family="Liberation Sans">HMI Parts Center</text>
</g>
<g transform="translate(846.0 564.0) rotate(-44)">
<text x="0" y="17" font-size="50" font-weight="bold" text-anchor="middle" fill="#4fbab4" fill-opacity="0.13" font-family="Liberation Sans" letter-spacing="1">VICPAS</text>
<text x="107" y="42" font-size="22" text-anchor="middle" fill="#7a7a7a" fill-opacity="0.12" font-family="Liberation Sans" letter-spacing="1">Vicpas.com</text>
<text x="-70" y="48" font-size="22" font-weight="bold" text-anchor="middle" fill="#7a7a7a" fill-opacity="0.11" font-family="Liberation Sans">HMI Parts Center</text>
</g>
<g transform="translate(-22.0 853.0) rotate(-44)">
<text x="0" y="17" font-size="50" font-weight="bold" text-anchor="middle" fill="#4fbab4" fill-opacity="0.13" font-family="Liberation Sans" letter-spacing="1">VICPAS</text>
<text x="107" y="42" font-size="22" text-anchor="middle" fill="#7a7a7a" fill-opacity="0.12" font-family="Liberation Sans" letter-spacing="1">Vicpas.com</text>
<text x="-70" y="48" font-size="22" font-weight="bold" text-anchor="middle" fill="#7a7a7a" fill-opacity="0.11" font-family="Liberation Sans">HMI Parts Center</text>
</g>
<g transform="translate(268.0 853.0) rotate(-44)">
<text x="0" y="17" font-size="50" font-weight="bold" text-anchor="middle" fill="#4fbab4" fill-opacity="0.13" font-family="Liberation Sans" letter-spacing="1">VICPAS</text>
<text x="107" y="42" font-size="22" text-anchor="middle" fill="#7a7a7a" fill-opacity="0.12" font-family="Liberation Sans" letter-spacing="1">Vicpas.com</text>
<text x="-70" y="48" font-size="22" font-weight="bold" text-anchor="middle" fill="#7a7a7a" fill-opacity="0.11" font-family="Liberation Sans">HMI Parts Center</text>
</g>
<g transform="translate(557.0 853.0) rotate(-44)">
<text x="0" y="17" font-size="50" font-weight="bold" text-anchor="middle" fill="#4fbab4" fill-opacity="0.13" font-family="Liberation Sans" letter-spacing="1">VICPAS</text>
<text x="107" y="42" font-size="22" text-anchor="middle" fill="#7a7a7a" fill-opacity="0.12" font-family="Liberation Sans" letter-spacing="1">Vicpas.com</text>
<text x="-70" y="48" font-size="22" font-weight="bold" text-anchor="middle" fill="#7a7a7a" fill-opacity="0.11" font-family="Liberation Sans">HMI Parts Center</text>
</g>
<g transform="translate(846.0 853.0) rotate(-44)">
<text x="0" y="17" font-size="50" font-weight="bold" text-anchor="middle" fill="#4fbab4" fill-opacity="0.13" font-family="Liberation Sans" letter-spacing="1">VICPAS</text>
<text x="107" y="42" font-size="22" text-anchor="middle" fill="#7a7a7a" fill-opacity="0.12" font-family="Liberation Sans" letter-spacing="1">Vicpas.com</text>
<text x="-70" y="48" font-size="22" font-weight="bold" text-anchor="middle" fill="#7a7a7a" fill-opacity="0.11" font-family="Liberation Sans">HMI Parts Center</text>
</g>
</svg>
<div class="lab" style="right:644.4px;top:222.85px;letter-spacing:1.40px;margin-right:-1.40px">Graphic</div>
<div class="lab" style="right:645.2px;top:247.65px;letter-spacing:1.40px;margin-right:-1.40px">Overlay</div>
<div class="lab" style="right:712.8px;top:291.85px;letter-spacing:1.40px;margin-right:-1.40px">Overlay</div>
<div class="lab" style="right:712.8px;top:316.95px;letter-spacing:1.40px;margin-right:-1.40px">Adhesive</div>
<div class="lab" style="right:790.4px;top:356.05px;letter-spacing:1.40px;margin-right:-1.40px">Upper</div>
<div class="lab" style="right:790.4px;top:381.35px;letter-spacing:1.40px;margin-right:-1.40px">Circuit Layer</div>
<div class="lab" style="left:905.6px;top:661.05px;letter-spacing:1.40px">Spacing</div>
<div class="lab" style="left:906.4px;top:686.35px;letter-spacing:1.40px">Layer</div>
<div class="lab" style="left:826.8px;top:736.85px;letter-spacing:1.40px">Lower</div>
<div class="lab" style="left:826.8px;top:761.95px;letter-spacing:1.40px">Circuit Layer</div>
<div class="lab" style="left:753.6px;top:819.05px;letter-spacing:1.40px">Back</div>
<div class="lab" style="left:753.0px;top:844.05px;letter-spacing:1.40px">Adhesive Layer</div>
<svg id="ov" width="1000" height="1000">
<polyline points="220.0,276.0 360.4,276.0 447.0,308.0" fill="none" stroke="#a0a0a0" stroke-width="1.8"/>
<polyline points="148.8,341.0 290.4,341.0 376.0,374.0" fill="none" stroke="#a0a0a0" stroke-width="1.8"/>
<polyline points="72.0,408.9 212.0,408.9 298.0,441.0" fill="none" stroke="#a0a0a0" stroke-width="1.8"/>
<polyline points="769.6,661.8 907.2,711.8 991.7,711.8" fill="none" stroke="#a0a0a0" stroke-width="1.8"/>
<polyline points="694.4,731.0 826.8,787.6 969.6,787.6" fill="none" stroke="#a0a0a0" stroke-width="1.8"/>
<polyline points="617.0,812.5 750.0,869.4 893.0,869.4" fill="none" stroke="#a0a0a0" stroke-width="1.8"/>
<circle cx="309.8" cy="48.9" r="10.8" fill="none" stroke="#3c3c3c" stroke-width="1.6"/>
<text x="309.8" y="54.7" font-size="16" text-anchor="middle" fill="#3c3c3c" font-family="Liberation Sans">R</text>
</svg>
<div id="logo" style="position:absolute;left:41px;top:47px;font-weight:bold;font-size:64px;color:#4db8b4;letter-spacing:3.2px;line-height:64px;">VICPAS</div>
</body></html>
